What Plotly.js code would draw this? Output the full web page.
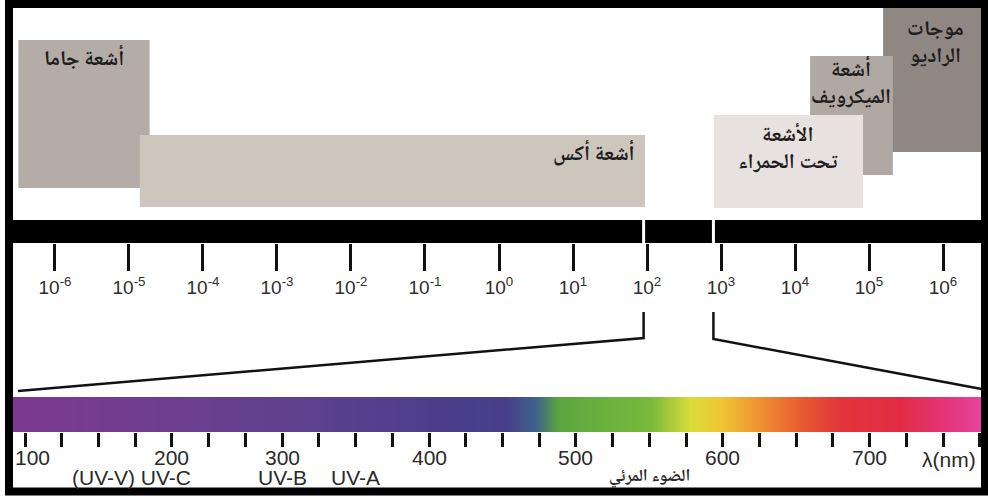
<!DOCTYPE html>
<html><head><meta charset="utf-8">
<script src="https://cdn.plot.ly/plotly-3.0.1.min.js"></script>
<style>html,body{margin:0;padding:0;background:#fff;overflow:hidden}#chart{width:988px;height:499px}</style>
</head><body><div id="chart"></div>
<script>
// ---------------- data ----------------
const bandNames = ['أشعة جاما', 'أشعة أكس', 'الأشعة<br>تحت الحمراء', 'أشعة<br>الميكرويف', 'موجات<br>الراديو'];
const bandStartNm = [3.2e-7, 1.4e-5, 800, 1.6e4, 1.55e5];
const bandEndNm = [1.9e-5, 94, 8.3e4, 2.1e5, 4e6];

const topExponents = [-6, -5, -4, -3, -2, -1, 0, 1, 2, 3, 4, 5, 6];
const topTickLabels = topExponents.map(e => '10<sup>' + e + '</sup>');

const visibleWindowNm = [90, 790];

const spectrumTickLabels = ['100', '200', '300', '400', '500', '600', '700'];
const spectrumTickSlots = [0, 4, 7, 11, 15, 19, 23];
const spectrumRegionLabels = ['(UV-V) UV-C', 'UV-B', 'UV-A', 'الضوء المرئي'];
const spectrumRegionSlots = [4, 7, 9, 17];
const spectrumUnit = 'λ(nm)';

const gradientSlots = [-0.33, 3.4, 7.49, 11.57, 13.07, 13.9, 14.5, 15.93, 17.02, 18.11, 18.92, 20.01, 21.10, 22.19, 23.82, 25.05, 26.03];
const gradientColors = ['#7c3a8e', '#703d90', '#5e4190', '#4a3e8b', '#483f8b', '#3e628a', '#5ca540', '#6bb33d', '#78b83c', '#d8dd3a', '#f0c634', '#ec9131', '#e75c31', '#e3343b', '#e22c45', '#e43577', '#e8429c'];

// ---------------- drawing ----------------
const W = 988, H = 499;
const LOG_RANGE = [-6.743, 6.608];
const SLOT_RANGE = [-0.327, 26.03];
const X2_DOMAIN = [13 / W, 981 / W];
const pLog = nm => (Math.log10(nm) - LOG_RANGE[0]) / (LOG_RANGE[1] - LOG_RANGE[0]);
const pSlot = s => X2_DOMAIN[0] + (s - SLOT_RANGE[0]) / (SLOT_RANGE[1] - SLOT_RANGE[0]) * (X2_DOMAIN[1] - X2_DOMAIN[0]);

const boxTop = [40, 135, 115, 56, 0];
const boxBottom = [188, 207, 208, 175, 152];
const boxColor = ['#b4aca6', '#cdc6bc', '#e7e2df', '#b0a8a2', '#8f8782'];
const drawOrder = [4, 3, 2, 0, 1];

const traces = [];
drawOrder.forEach(i => {
  traces.push({
    type: 'scatter', mode: 'lines', xaxis: 'x', yaxis: 'y',
    x: [bandStartNm[i], bandEndNm[i], bandEndNm[i], bandStartNm[i], bandStartNm[i]],
    y: [boxTop[i], boxTop[i], boxBottom[i], boxBottom[i], boxTop[i]],
    fill: 'toself', fillcolor: boxColor[i], line: {width: 0, color: boxColor[i]},
    hoverinfo: 'skip', showlegend: false
  });
});

const zmin = gradientSlots[0], zmax = gradientSlots[gradientSlots.length - 1];
traces.push({
  type: 'heatmap', xaxis: 'x2', yaxis: 'y2',
  x: gradientSlots, y: [0, 1], z: [gradientSlots, gradientSlots],
  zmin: zmin, zmax: zmax, zsmooth: 'best', showscale: false, hoverinfo: 'skip',
  colorscale: gradientSlots.map((s, k) => [(s - zmin) / (zmax - zmin), gradientColors[k]])
});

const arFont = '"Noto Naskh Arabic", "Noto Sans Arabic", "DejaVu Sans", sans-serif';
const numFont = 'Arial, "Liberation Sans", sans-serif';

const labelY = [60, 155, 150, 85, 44];
const annotations = [];
bandNames.forEach((name, i) => {
  const lo = Math.log10(bandStartNm[i]), hi = Math.log10(bandEndNm[i]);
  const rightAligned = i === 1;
  annotations.push({
    xref: 'x', yref: 'y', x: rightAligned ? hi : (lo + hi) / 2, y: labelY[i],
    xanchor: rightAligned ? 'right' : 'center', yanchor: 'middle', xshift: rightAligned ? -8 : 0,
    text: '<b>' + name + '</b>', showarrow: false, align: 'center',
    font: {family: arFont, size: 21, color: '#1e1e1e'}
  });
});
spectrumTickLabels.forEach((t, k) => {
  const first = k === 0;
  annotations.push({
    xref: 'x2', yref: 'y', x: first ? SLOT_RANGE[0] : spectrumTickSlots[k], y: 457,
    xanchor: first ? 'left' : 'center', yanchor: 'middle',
    text: t, showarrow: false, font: {family: numFont, size: 21, color: '#2a2a2a'}
  });
});
spectrumRegionLabels.forEach((t, k) => {
  const first = k === 0;
  const arabic = k === 3;
  annotations.push({
    xref: 'x2', yref: 'y', x: spectrumRegionSlots[k], y: 477,
    xanchor: first ? 'right' : 'center', xshift: first ? 21 : 0, yanchor: 'middle',
    text: arabic ? '<b>' + t + '</b>' : t, showarrow: false,
    font: {family: arabic ? arFont : numFont, size: arabic ? 17 : 21, color: '#2a2a2a'}
  });
});
annotations.push({
  xref: 'x2', yref: 'y', x: SLOT_RANGE[1], y: 459, xanchor: 'right', xshift: -3, yanchor: 'middle',
  text: spectrumUnit, showarrow: false, font: {family: numFont, size: 21, color: '#2a2a2a'}
});

const a = pLog(visibleWindowNm[0]), b = pLog(visibleWindowNm[1]);
const shapes = [
  {type: 'rect', layer: 'below', xref: 'paper', yref: 'y', x0: 13 / W, x1: 981 / W, y0: 220, y1: 243, fillcolor: '#000', line: {width: 0}},
  {type: 'line', layer: 'below', xref: 'paper', yref: 'y', x0: a, x1: a, y0: 219, y1: 244, line: {color: '#fff', width: 3}},
  {type: 'line', layer: 'below', xref: 'paper', yref: 'y', x0: b, x1: b, y0: 219, y1: 244, line: {color: '#fff', width: 3}},
  {type: 'path', layer: 'above', xref: 'paper', yref: 'y', path: `M${a},312 L${a},338 L${pSlot(SLOT_RANGE[0]) + 5 / W},391`, line: {color: '#111', width: 2.5}},
  {type: 'path', layer: 'above', xref: 'paper', yref: 'y', path: `M${b},312 L${b},339 L${987 / W},390`, line: {color: '#111', width: 2.5}},
  {type: 'rect', layer: 'above', xref: 'paper', yref: 'y', x0: 9 / W, x1: 985 / W, y0: 4, y1: 491.5, fillcolor: 'rgba(0,0,0,0)', line: {color: '#000', width: 8}}
];

const layout = {
  width: W, height: H, margin: {l: 0, r: 0, t: 0, b: 0},
  paper_bgcolor: '#fff', plot_bgcolor: 'rgba(0,0,0,0)', showlegend: false,
  xaxis: {
    type: 'log', range: LOG_RANGE, domain: [0, 1], anchor: 'free', position: 1 - 243 / H, side: 'bottom',
    showline: false, showgrid: false, zeroline: false, ticks: 'outside', ticklen: 27, tickwidth: 3, tickcolor: '#111',
    tickmode: 'array', tickvals: topExponents.map(e => Math.pow(10, e)), ticktext: topTickLabels,
    tickfont: {family: numFont, size: 19, color: '#2e2e2e'}, fixedrange: true
  },
  yaxis: {range: [H, 0], domain: [0, 1], visible: false, fixedrange: true},
  xaxis2: {
    range: SLOT_RANGE, domain: X2_DOMAIN, anchor: 'y2', ticks: 'outside', ticklen: 14, tickwidth: 3, tickcolor: '#111',
    tickmode: 'linear', tick0: 0, dtick: 1, showticklabels: false, showgrid: false, zeroline: false, showline: false, fixedrange: true
  },
  yaxis2: {range: [-0.5, 1.5], domain: [1 - 432 / H, 1 - 397 / H], anchor: 'x2', visible: false, fixedrange: true},
  shapes: shapes, annotations: annotations
};

Plotly.newPlot('chart', traces, layout, {displayModeBar: false, staticPlot: true});
</script></body></html>
